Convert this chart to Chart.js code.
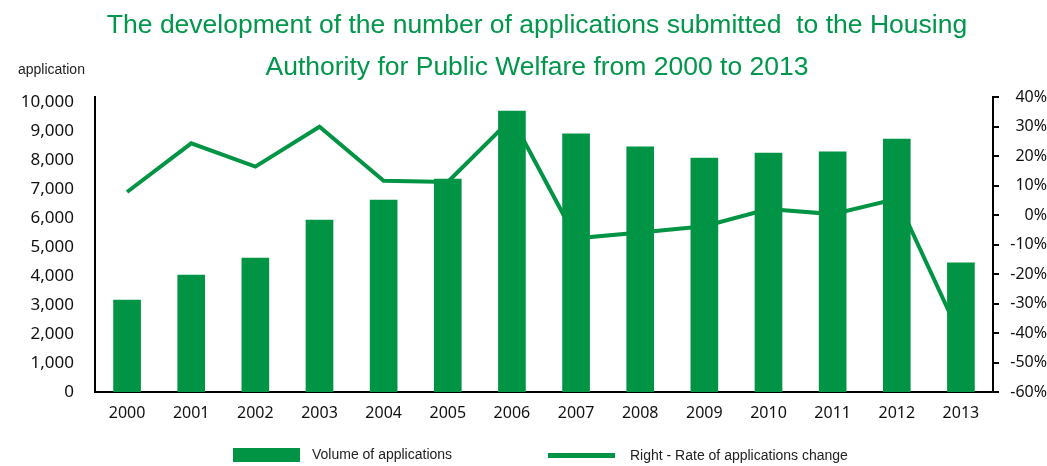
<!DOCTYPE html>
<html>
<head>
<meta charset="utf-8">
<script src="https://cdn.jsdelivr.net/npm/chart.js@4/dist/chart.umd.min.js"></script>
<style>
  html, body { margin: 0; padding: 0; background: #fff; }
  canvas { display: block; }
</style>
</head>
<body>
<canvas id="applicationsChart" width="1047" height="466"></canvas>
<script>
// Data
const years = ['2000', '2001', '2002', '2003', '2004', '2005', '2006', '2007', '2008', '2009', '2010', '2011', '2012', '2013'];
const volume = [3170, 4030, 4620, 5930, 6620, 7345, 9690, 8900, 8450, 8070, 8240, 8280, 8720, 4450];
const changeRate = [7.8, 24.3, 16.4, 29.9, 11.6, 11.2, 32.8, -7.9, -5.9, -3.8, 2.0, 0.3, 5.5, -41.5];
const volumeTicks = [0, 1000, 2000, 3000, 4000, 5000, 6000, 7000, 8000, 9000, 10000];
const rateTicks = [-60, -50, -40, -30, -20, -10, 0, 10, 20, 30, 40];

const titleLines = [
    'The development of the number of applications submitted  to the Housing',
    'Authority for Public Welfare from 2000 to 2013'
];

const green = '#009444';

// Title, unit caption and legend are painted straight onto the canvas
const headings = {
    id: 'headings',
    afterDraw(chart) {
        const c = chart.ctx;
        c.save();
        c.fillStyle = '#00964b';
        c.font = '26.5px "Liberation Sans", Arial, sans-serif';
        c.textAlign = 'center';
        c.textBaseline = 'alphabetic';
        c.fillText(titleLines[0], 537, 33);
        c.fillText(titleLines[1], 537, 75);

        c.fillStyle = '#222';
        c.font = '14px "Liberation Sans", Arial, sans-serif';
        c.textAlign = 'left';
        c.textBaseline = 'middle';
        c.fillText('application', 18, 70);

        // legend
        const ds = chart.data.datasets;
        c.fillStyle = ds[0].backgroundColor;
        c.fillRect(233, 448, 67, 14);
        c.fillStyle = '#222';
        c.fillText(ds[0].label, 312, 455);

        c.strokeStyle = ds[1].borderColor;
        c.lineWidth = 5;
        c.beginPath();
        c.moveTo(548, 455.5);
        c.lineTo(615, 455.5);
        c.stroke();
        c.fillStyle = '#222';
        c.fillText(ds[1].label, 630, 456);
        c.restore();
    }
};

new Chart(document.getElementById('applicationsChart'), {
    data: {
        labels: years,
        datasets: [
            {
                type: 'bar',
                label: 'Volume of applications',
                data: volume,
                backgroundColor: green,
                barThickness: 27,
                yAxisID: 'y',
                order: 1
            },
            {
                type: 'line',
                label: 'Right - Rate of applications change',
                data: changeRate,
                borderColor: green,
                borderWidth: 4,
                pointRadius: 0,
                tension: 0,
                fill: false,
                yAxisID: 'y1',
                order: 2
            }
        ]
    },
    options: {
        responsive: false,
        animation: false,
        layout: { padding: { top: 97, left: 0, right: 0, bottom: 0 } },
        plugins: {
            legend: { display: false },
            title: { display: false },
            tooltip: { enabled: false }
        },
        scales: {
            x: {
                grid: { display: false },
                border: { display: true, color: '#000', width: 2 },
                ticks: {
                    color: '#111',
                    padding: 4,
                    font: { family: '"Noto Sans", sans-serif', size: 16 }
                },
                afterFit(scale) { scale.height = 74; }
            },
            y: {
                position: 'left',
                min: 0,
                max: 10172,
                grid: { display: false },
                border: { display: true, color: '#000', width: 2 },
                afterBuildTicks(scale) { scale.ticks = volumeTicks.map(v => ({ value: v })); },
                ticks: {
                    color: '#111',
                    padding: 13,
                    font: { family: '"Noto Sans", sans-serif', size: 17 },
                    callback: v => v.toLocaleString('en-US')
                },
                afterFit(scale) { scale.width = 95; }
            },
            y1: {
                position: 'right',
                min: -60,
                max: 40,
                grid: {
                    display: true,
                    drawOnChartArea: false,
                    drawTicks: true,
                    tickLength: 6,
                    color: '#000',
                    lineWidth: 2
                },
                border: { display: true, color: '#000', width: 2 },
                afterBuildTicks(scale) { scale.ticks = rateTicks.map(v => ({ value: v })); },
                ticks: {
                    color: '#111',
                    padding: 4,
                    crossAlign: 'far',
                    font: { family: '"Noto Sans", sans-serif', size: 16 },
                    callback: v => v + '%'
                },
                afterFit(scale) { scale.width = 54; }
            }
        }
    },
    plugins: [headings]
});
</script>
</body>
</html>
